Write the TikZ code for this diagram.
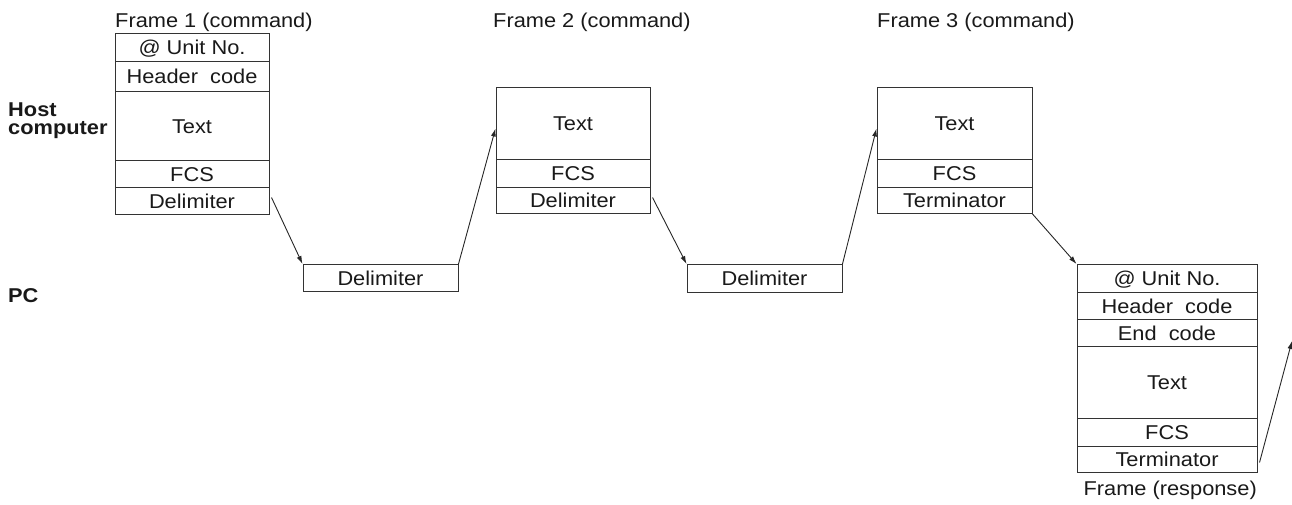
\documentclass[tikz,border=0pt]{standalone}
\usepackage{fontspec}
\setmainfont{Liberation Sans}[FakeStretch=1.09]
\usetikzlibrary{arrows.meta}
\begin{document}
\begin{tikzpicture}[x=1pt,y=-1pt,
  every node/.style={font=\fontsize{20}{23}\selectfont, text=black!90},
  row/.style={draw=black!80, line width=1pt, anchor=north, inner sep=0pt,
    text height=14.3pt, text depth=0pt},
  w154/.style={row, minimum width=154pt},
  w155/.style={row, minimum width=155pt},
  w180/.style={row, minimum width=180pt},
  lbl/.style={inner sep=0pt},
  side/.style={inner sep=0pt, anchor=base west, font=\fontsize{20}{23}\selectfont\bfseries},
  arr/.style={draw=black!85, line width=0.9pt, -{Latex[length=8pt,width=5pt]}}]
\useasboundingbox (0,0) rectangle (1292,505);

% side labels
\node[side] (host) at (8,117) {Host};
\node[side] (comp) at (8,135) {computer};
\node[side] (pc) at (8,302) {PC};

% titles
\node[lbl, anchor=base west] (t1) at (115,28) {Frame 1 (command)};
\node[lbl, anchor=base west] (t2) at (493,28) {Frame 2 (command)};
\node[lbl, anchor=base west] (t3) at (877,28) {Frame 3 (command)};
\node[lbl, anchor=base east] (tr) at (1257,495) {Frame (response)};

% Frame 1
\node[w154, minimum height=28pt] (f1a) at (192,33) {@ Unit No.};
\node[w154, minimum height=30pt] (f1b) at (192,61) {Header\ \ code};
\node[w154, minimum height=69pt] (f1c) at (192,91) {Text};
\node[w154, minimum height=27pt] (f1d) at (192,160) {FCS};
\node[w154, minimum height=27pt] (f1e) at (192,187) {Delimiter};

% Frame 2
\node[w154, minimum height=72pt] (f2a) at (573,87) {Text};
\node[w154, minimum height=28pt] (f2b) at (573,159) {FCS};
\node[w154, minimum height=26pt] (f2c) at (573,187) {Delimiter};

% Frame 3
\node[w155, minimum height=72pt] (f3a) at (954.5,87) {Text};
\node[w155, minimum height=28pt] (f3b) at (954.5,159) {FCS};
\node[w155, minimum height=26pt] (f3c) at (954.5,187) {Terminator};

% PC delimiters
\node[w155, minimum height=27pt] (d1) at (380.5,264) {Delimiter};
\node[w155, minimum height=28pt] (d2) at (764.5,264) {Delimiter};

% Response frame
\node[w180, minimum height=28pt] (r1) at (1167,264) {@ Unit No.};
\node[w180, minimum height=27pt] (r2) at (1167,292) {Header\ \ code};
\node[w180, minimum height=27pt] (r3) at (1167,319) {End\ \ code};
\node[w180, minimum height=72pt] (r4) at (1167,346) {Text};
\node[w180, minimum height=28pt] (r5) at (1167,418) {FCS};
\node[w180, minimum height=26pt] (r6) at (1167,446) {Terminator};

\coordinate (out) at (1292,341);

% arrows
\draw[arr] ([xshift=2pt,yshift=3.5pt]f1e.east) -- (d1.north west);
\draw[arr] (d1.north east) -- ([yshift=-5pt]f2a.west);
\draw[arr] ([xshift=2pt,yshift=3pt]f2c.east) -- (d2.north west);
\draw[arr] (d2.north east) -- ([yshift=-5pt]f3a.west);
\draw[arr] (f3c.south east) -- (r1.north west);
\draw[arr] ([xshift=2pt,yshift=-3pt]r6.east) -- (out);
\end{tikzpicture}
\end{document}
